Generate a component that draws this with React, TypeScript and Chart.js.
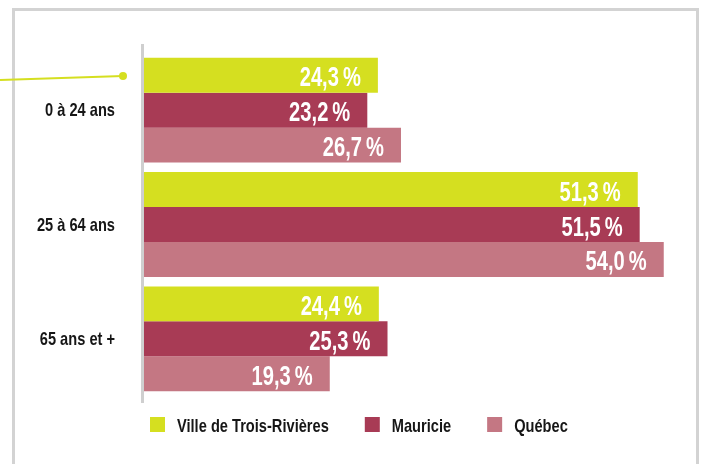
import React, { useEffect, useRef } from "react";
import { Chart, registerables } from "chart.js";

Chart.register(...registerables);

const categories = ["0 à 24 ans", "25 à 64 ans", "65 ans et +"];
const seriesNames = ["Ville de Trois-Rivières", "Mauricie", "Québec"];
const villeValues = [24.3, 51.3, 24.4];
const mauricieValues = [23.2, 51.5, 25.3];
const quebecValues = [26.7, 54.0, 19.3];
const seriesColors = ["#d5df20", "#a83b55", "#c47783"];
const xMax = 56;

const FONT = "'Liberation Sans Narrow', 'Liberation Sans', sans-serif";
const NARROW = 0.77;

const fmt = (v: number) => v.toFixed(1).replace(".", ",") + "\u2009%";

function narrowText(ctx: any, text: string, x: number, y: number, sx: number) {
  ctx.save();
  ctx.translate(x, y);
  ctx.scale(sx, 1);
  ctx.fillText(text, 0, 0);
  ctx.restore();
}

const decorPlugin = {
  id: "decor",
  beforeDraw(chart: any) {
    const { ctx } = chart;
    ctx.save();
    ctx.fillStyle = "#ffffff";
    ctx.fillRect(0, 0, chart.width, chart.height);
    // frame
    ctx.strokeStyle = "#d3d3d3";
    ctx.lineWidth = 3;
    ctx.beginPath();
    ctx.moveTo(13.5, chart.height + 5);
    ctx.lineTo(13.5, 9.5);
    ctx.lineTo(697.5, 9.5);
    ctx.lineTo(697.5, chart.height + 5);
    ctx.stroke();
    // connector line + dot
    ctx.strokeStyle = "#d5df20";
    ctx.lineWidth = 2;
    ctx.beginPath();
    ctx.moveTo(0, 80);
    ctx.lineTo(123, 76);
    ctx.stroke();
    ctx.fillStyle = "#d5df20";
    ctx.beginPath();
    ctx.arc(123, 76, 4, 0, Math.PI * 2);
    ctx.fill();
    // vertical axis line
    const a = chart.chartArea;
    ctx.fillStyle = "#cfcfcf";
    ctx.fillRect(a.left - 3, a.top - 9, 3, a.bottom - a.top + 16);
    // category labels
    const yScale = chart.scales.y;
    ctx.font = `bold 19px ${FONT}`;
    ctx.fillStyle = "#161616";
    ctx.textAlign = "right";
    ctx.textBaseline = "alphabetic";
    chart.data.labels.forEach((lab: string, i: number) => {
      narrowText(ctx, lab, a.left - 29, yScale.getPixelForTick(i) + 6, NARROW);
    });
    ctx.restore();
  },
  afterDatasetsDraw(chart: any) {
    const { ctx } = chart;
    chart.data.datasets.forEach((ds: any, di: number) => {
      const meta = chart.getDatasetMeta(di);
      meta.data.forEach((bar: any, i: number) => {
        ctx.save();
        ctx.font = `bold 28px ${FONT}`;
        ctx.fillStyle = "#ffffff";
        ctx.textAlign = "right";
        ctx.textBaseline = "alphabetic";
        narrowText(ctx, fmt(ds.data[i]), bar.x - 17, bar.y + 11, 0.72);
        ctx.restore();
      });
    });
    // legend
    ctx.save();
    ctx.font = `bold 19px ${FONT}`;
    ctx.textAlign = "left";
    ctx.textBaseline = "alphabetic";
    let x = 150;
    chart.data.datasets.forEach((ds: any) => {
      ctx.fillStyle = ds.backgroundColor;
      ctx.fillRect(x, 417, 15, 15);
      x += 27;
      ctx.fillStyle = "#161616";
      narrowText(ctx, ds.label, x, 432, NARROW);
      x += ctx.measureText(ds.label).width * NARROW + 36;
    });
    ctx.restore();
  },
};

export default function App() {
  const ref = useRef<HTMLCanvasElement | null>(null);
  useEffect(() => {
    if (!ref.current) return;
    const chart = new Chart(ref.current, {
      type: "bar",
      data: {
        labels: categories,
        datasets: [
          { label: seriesNames[0], data: villeValues, backgroundColor: seriesColors[0] },
          { label: seriesNames[1], data: mauricieValues, backgroundColor: seriesColors[1] },
          { label: seriesNames[2], data: quebecValues, backgroundColor: seriesColors[2] },
        ],
      },
      options: {
        indexAxis: "y",
        responsive: false,
        animation: false,
        devicePixelRatio: 1,
        layout: { padding: { top: 53, bottom: 68, left: 0, right: 18 } },
        datasets: {
          bar: { barPercentage: 1, categoryPercentage: 0.917, borderWidth: 0 },
        },
        plugins: {
          legend: { display: false },
          tooltip: { enabled: false },
        },
        scales: {
          x: { display: false, min: 0, max: xMax },
          y: {
            grid: { display: false, drawTicks: false },
            border: { display: false },
            afterFit(scale: any) {
              scale.width = 144;
            },
            ticks: { display: false },
          },
        },
      },
      plugins: [decorPlugin],
    } as any);
    return () => chart.destroy();
  }, []);
  return (
    <div style={{ position: "absolute", left: 0, top: 0, width: 701, height: 464 }}>
      <canvas ref={ref} width={701} height={464} style={{ display: "block" }} />
    </div>
  );
}
